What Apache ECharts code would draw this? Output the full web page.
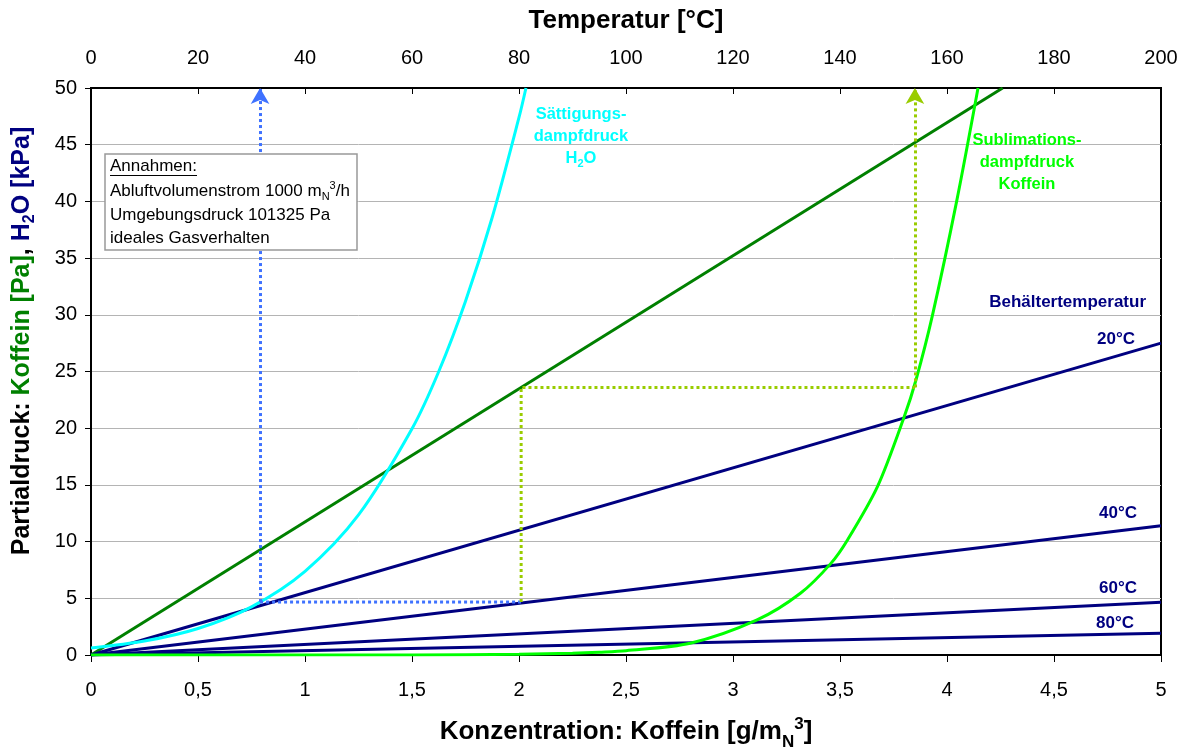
<!DOCTYPE html>
<html>
<head>
<meta charset="utf-8">
<script src="https://cdn.jsdelivr.net/npm/echarts@6/dist/echarts.min.js"></script>
<style>
html,body{margin:0;padding:0;background:#fff;}
#chart{width:1187px;height:749px;}
</style>
</head>
<body>
<div id="chart"></div>
<script>
// ---- data ----
const concTicks = [0, 0.5, 1, 1.5, 2, 2.5, 3, 3.5, 4, 4.5, 5];
const tempTicks = [0, 20, 40, 60, 80, 100, 120, 140, 160, 180, 200];
const pressureTicks = [0, 5, 10, 15, 20, 25, 30, 35, 40, 45, 50];

// Partialdruck Koffein (Pa) vs Konzentration (straight line)
const koffeinConc = [0, 4.26];
const koffeinPa = [0, 50];

// Behältertemperatur lines: H2O partial pressure at conc=5
const behaelterLabels = ['20°C', '40°C', '60°C', '80°C'];
const behaelterConc = [0, 5];
const behaelterEnd = [27.5, 11.4, 4.65, 1.92];

// Sättigungsdampfdruck H2O (kPa) vs temperature
const waterT = [0, 10, 20, 30, 40, 50, 60, 65, 70, 75, 80, 81.3];
const waterP = [0.61, 1.23, 2.34, 4.25, 7.38, 12.35, 19.95, 25.0, 31.2, 38.6, 47.4, 50];

// Sublimationsdampfdruck Koffein (Pa) vs temperature
const caffT = [0, 40, 60, 80, 90, 95, 100, 112, 124.5, 132.6, 138.3, 141.4, 147, 152, 154.2, 157.3, 161.8, 165.8];
const caffP = [0, 0.002, 0.008, 0.06, 0.16, 0.25, 0.38, 1.03, 3.09, 5.44, 8.08, 10.14, 14.84, 21.0, 24.25, 30, 40, 50];

// Reading example (dotted guide lines)
const blueX = [0.79, 2.01];
const blueY = [4.67, 50];
const greenGuideX = [2.01, 3.85];
const greenGuideY = [4.67, 23.6, 50];

const FONT = 'Liberation Sans, Arial, sans-serif';
const chart = echarts.init(document.getElementById('chart'));

function zip(a, b) { return a.map((v, i) => [v, b[i]]); }

const navy = '#000080';
const behaelterSeries = behaelterEnd.map((end, i) => ({
  name: behaelterLabels[i],
  type: 'line',
  xAxisIndex: 0,
  data: [[behaelterConc[0], 0], [behaelterConc[1], end]],
  showSymbol: false,
  lineStyle: { color: navy, width: 3 },
  z: 3
}));

const dotBlue = '#3f72ff';
const dotGreen = '#99cc00';
const dash = [3, 3];

const labelFs = 20;
const noteFs = 17;
const tagFs = 17;

function navyTag(text, x, y) {
  return { type: 'text', x: x, y: y, z: 11, style: { text: text, align: 'right', verticalAlign: 'middle', fontSize: tagFs, fontWeight: 'bold', fontFamily: FONT, fill: navy } };
}

const option = {
  backgroundColor: '#fff',
  animation: false,
  textStyle: { fontFamily: FONT },
  grid: {
    left: 91, right: 26, top: 88, bottom: 94,
    outerBoundsMode: 'none', containLabel: false,
    show: true, borderColor: '#000', borderWidth: 2, backgroundColor: 'transparent'
  },
  xAxis: [
    {
      type: 'value', position: 'bottom', min: 0, max: 5, interval: 0.5,
      axisLine: { show: true, onZero: false, lineStyle: { color: '#000', width: 2 } },
      axisTick: { show: true, inside: false, length: 7, lineStyle: { color: '#000', width: 1 } },
      axisLabel: {
        color: '#000', fontSize: labelFs, fontFamily: FONT, margin: 25,
        formatter: v => String(v).replace('.', ',')
      },
      splitLine: { show: false },
      name: '{t|Konzentration: Koffein [g/m}{sub|N}{sup|3}{t|]}',
      nameLocation: 'middle', nameGap: 61,
      nameTextStyle: {
        rich: {
          t: { fontSize: 26, fontWeight: 'bold', color: '#000', fontFamily: FONT, lineHeight: 32 },
          sub: { fontSize: 17, fontWeight: 'bold', color: '#000', fontFamily: FONT, verticalAlign: 'bottom', lineHeight: 16, padding: [0, 0, -3, 0] },
          sup: { fontSize: 17, fontWeight: 'bold', color: '#000', fontFamily: FONT, verticalAlign: 'top', lineHeight: 16 }
        }
      }
    },
    {
      type: 'value', position: 'top', min: 0, max: 200, interval: 20,
      axisLine: { show: true, onZero: false, lineStyle: { color: '#000', width: 2 } },
      axisTick: { show: true, inside: true, length: 6, lineStyle: { color: '#000', width: 1 } },
      axisLabel: { color: '#000', fontSize: labelFs, fontFamily: FONT, margin: 20 },
      splitLine: { show: false },
      name: 'Temperatur [°C]',
      nameLocation: 'middle', nameGap: 54,
      nameTextStyle: { fontSize: 26, fontWeight: 'bold', color: '#000', fontFamily: FONT }
    }
  ],
  yAxis: {
    type: 'value', min: 0, max: 50, interval: 5,
    axisLine: { show: true, lineStyle: { color: '#000', width: 2 } },
    axisTick: { show: true, inside: false, length: 6, lineStyle: { color: '#000', width: 1 } },
    axisLabel: { color: '#000', fontSize: labelFs, fontFamily: FONT, margin: 14 },
    splitLine: { show: true, lineStyle: { color: '#b4b4b4', width: 1 } }
  },
  series: [
    {
      name: 'Koffein', type: 'line', xAxisIndex: 0,
      data: zip(koffeinConc, koffeinPa), showSymbol: false,
      lineStyle: { color: '#008000', width: 3 }, z: 3
    },
    ...behaelterSeries,
    {
      name: 'Sättigungsdampfdruck H2O', type: 'line', xAxisIndex: 1,
      data: zip(waterT, waterP), showSymbol: false, smooth: 0.3,
      lineStyle: { color: '#00ffff', width: 3 }, z: 4
    },
    {
      name: 'Sublimationsdampfdruck Koffein', type: 'line', xAxisIndex: 1,
      data: zip(caffT, caffP), showSymbol: false, smooth: 0.3,
      lineStyle: { color: '#00ff00', width: 3 }, z: 4
    },
    {
      name: 'guideBlue', type: 'line', xAxisIndex: 0,
      data: [[blueX[0], blueY[0]], [blueX[1], blueY[0]]], showSymbol: false,
      lineStyle: { color: dotBlue, width: 3, type: dash }, z: 5,
      markLine: {
        silent: true, symbol: ['none', 'arrow'], symbolSize: [14, 16],
        label: { show: false },
        lineStyle: { color: dotBlue, width: 3, type: dash },
        data: [[{ coord: [blueX[0], blueY[0]] }, { coord: [blueX[0], blueY[1]] }]]
      }
    },
    {
      name: 'guideGreen', type: 'line', xAxisIndex: 0,
      data: [[greenGuideX[0], greenGuideY[0]], [greenGuideX[0], greenGuideY[1]], [greenGuideX[1], greenGuideY[1]]],
      showSymbol: false,
      lineStyle: { color: dotGreen, width: 3, type: dash }, z: 5,
      markLine: {
        silent: true, symbol: ['none', 'arrow'], symbolSize: [14, 16],
        label: { show: false },
        lineStyle: { color: dotGreen, width: 3, type: dash },
        data: [[{ coord: [greenGuideX[1], greenGuideY[1]] }, { coord: [greenGuideX[1], greenGuideY[2]] }]]
      }
    }
  ],
  graphic: [
    {
      type: 'text', x: 22, y: 341, rotation: Math.PI / 2, z: 10,
      style: {
        text: '{k|Partialdruck: }{g|Koffein [Pa]}{k|, }{b|H}{bs|2}{b|O [kPa]}',
        align: 'center', verticalAlign: 'middle',
        rich: {
          k: { fontSize: 25, fontWeight: 'bold', fill: '#000', fontFamily: FONT, lineHeight: 32 },
          g: { fontSize: 25, fontWeight: 'bold', fill: '#008000', fontFamily: FONT, lineHeight: 32 },
          b: { fontSize: 25, fontWeight: 'bold', fill: navy, fontFamily: FONT, lineHeight: 32 },
          bs: { fontSize: 16, fontWeight: 'bold', fill: navy, fontFamily: FONT, verticalAlign: 'bottom', lineHeight: 16 }
        }
      }
    },
    // Annahmen box
    {
      type: 'rect', shape: { x: 105, y: 154, width: 252, height: 96 }, z: 10,
      style: { fill: '#fff', stroke: '#999', lineWidth: 1.5 }
    },
    {
      type: 'text', x: 110, y: 166, z: 11,
      style: { text: 'Annahmen:', fontSize: noteFs, fontFamily: FONT, fill: '#000', verticalAlign: 'middle' }
    },
    {
      type: 'line', shape: { x1: 110, y1: 175.5, x2: 197, y2: 175.5 }, z: 11,
      style: { stroke: '#000', lineWidth: 1 }
    },
    {
      type: 'text', x: 110, y: 191, z: 11,
      style: {
        text: '{t|Abluftvolumenstrom 1000 m}{s|N}{p|3}{t|/h}', verticalAlign: 'middle',
        rich: {
          t: { fontSize: noteFs, fontFamily: FONT, fill: '#000', lineHeight: 22 },
          s: { fontSize: 11, fontFamily: FONT, fill: '#000', verticalAlign: 'bottom', lineHeight: 11 },
          p: { fontSize: 11, fontFamily: FONT, fill: '#000', verticalAlign: 'top', lineHeight: 11 }
        }
      }
    },
    {
      type: 'text', x: 110, y: 215, z: 11,
      style: { text: 'Umgebungsdruck 101325 Pa', fontSize: noteFs, fontFamily: FONT, fill: '#000', verticalAlign: 'middle' }
    },
    {
      type: 'text', x: 110, y: 238, z: 11,
      style: { text: 'ideales Gasverhalten', fontSize: noteFs, fontFamily: FONT, fill: '#000', verticalAlign: 'middle' }
    },
    // Sättigungsdampfdruck label
    {
      type: 'text', x: 581, y: 136, z: 11,
      style: {
        text: '{t|Sättigungs-}\n{t|dampfdruck}\n{t|H}{s|2}{t|O}', align: 'center', verticalAlign: 'middle',
        rich: {
          t: { fontSize: 16.5, fontWeight: 'bold', fontFamily: FONT, fill: '#00ffff', lineHeight: 22 },
          s: { fontSize: 11, fontWeight: 'bold', fontFamily: FONT, fill: '#00ffff', verticalAlign: 'bottom', lineHeight: 12 }
        }
      }
    },
    {
      type: 'text', x: 1027, y: 162, z: 11,
      style: {
        text: 'Sublimations-\ndampfdruck\nKoffein', align: 'center', verticalAlign: 'middle',
        fontSize: 16.5, fontWeight: 'bold', fontFamily: FONT, fill: '#00ff00', lineHeight: 22
      }
    },
    {
      type: 'text', x: 1146, y: 302, z: 11,
      style: { text: 'Behältertemperatur', align: 'right', verticalAlign: 'middle', fontSize: tagFs, fontWeight: 'bold', fontFamily: FONT, fill: navy }
    },
    navyTag(behaelterLabels[0], 1135, 339),
    navyTag(behaelterLabels[1], 1137, 513),
    navyTag(behaelterLabels[2], 1137, 588),
    navyTag(behaelterLabels[3], 1134, 623)
  ]
};
chart.setOption(option);
</script>
</body>
</html>
